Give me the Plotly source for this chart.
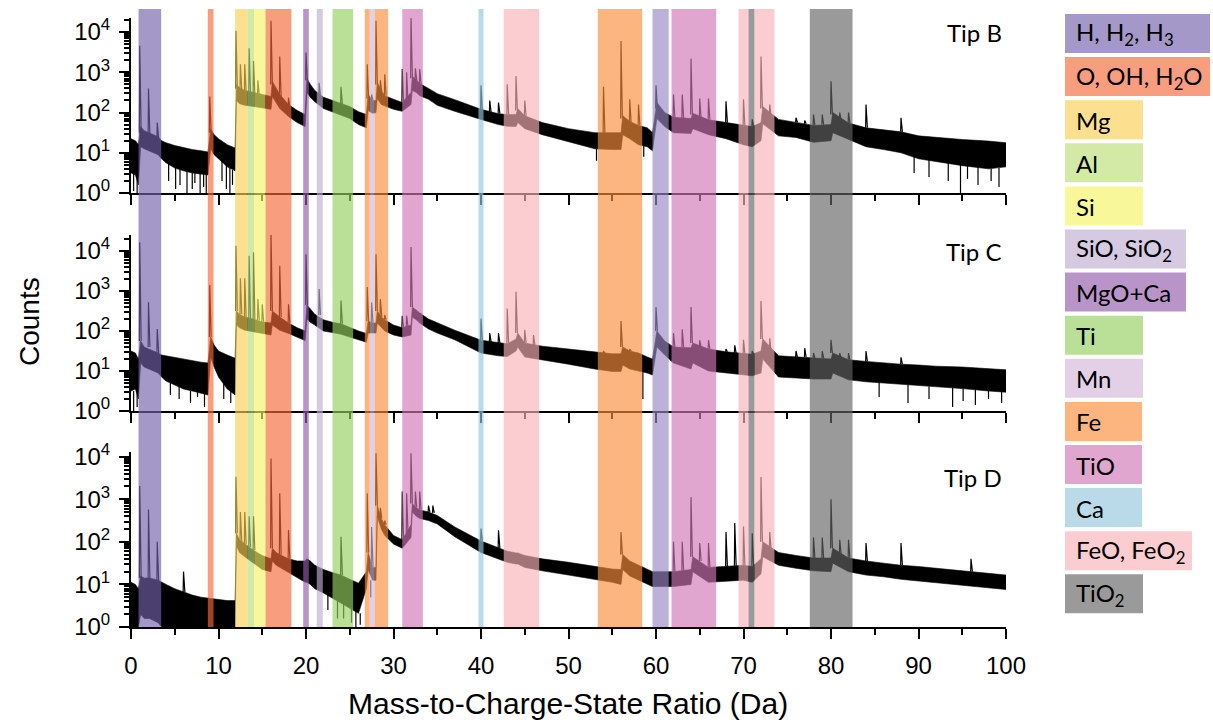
import numpy as np
import plotly.graph_objects as go
from plotly.subplots import make_subplots

# ---------------- data (log10 of counts) ----------------
env_x = [0, 0.5, 0.85, 1.1, 1.5, 2.1, 3.1, 3.5, 4, 5,
         6, 7, 8, 8.8, 9.1, 9.5, 10, 11, 11.9, 12.05,
         12.4, 13, 14, 15, 16.0, 16.15, 16.6, 17, 18, 19,
         19.9, 20.1, 20.5, 21, 22, 23, 24, 25, 26, 26.9,
         27.1, 27.6, 28.0, 28.15, 28.6, 29, 30, 31, 32.0, 32.15,
         32.6, 33, 34, 35, 37, 40, 42, 43, 44.0, 44.2,
         45, 47, 50, 53, 55, 56.0, 56.2, 57, 58, 59,
         59.6, 60.1, 61, 62, 64.0, 64.2, 66, 68, 70, 71,
         72.0, 72.2, 74, 76, 78, 80.0, 80.2, 82, 84, 86,
         88, 90, 92, 95, 98, 100]

tipB_hi = [1.35, 1.3, 1.2, 1.65, 1.55, 1.5, 1.4, 1.3, 1.25, 1.18,
           1.13, 1.08, 1.05, 1.02, 1.6, 1.45, 1.35, 1.2, 1.12, 2.7,
           2.62, 2.55, 2.5, 2.45, 2.4, 2.78, 2.6, 2.45, 2.2, 2.05,
           1.95, 2.85, 2.7, 2.55, 2.38, 2.3, 2.22, 2.15, 2.02, 1.95,
           2.45, 2.3, 2.3, 2.75, 2.55, 2.42, 2.33, 2.25, 2.5, 2.9,
           2.82, 2.72, 2.6, 2.47, 2.32, 2.08, 1.97, 1.95, 1.95, 2.1,
           1.92, 1.75, 1.6, 1.5, 1.5, 1.5, 1.92, 1.78, 1.68, 1.62,
           1.5, 2.25, 2.0, 1.88, 1.85, 1.98, 1.82, 1.75, 1.68, 1.65,
           1.75, 2.15, 1.83, 1.76, 1.68, 1.7, 2.0, 1.74, 1.62, 1.57,
           1.52, 1.42, 1.38, 1.33, 1.29, 1.25]
tipB_lo = [0.5, 0.45, 0.2, 1.15, 1.1, 1.05, 0.95, 0.85, 0.75, 0.62,
           0.55, 0.5, 0.48, 0.45, 1.1, 0.95, 0.85, 0.65, 0.55, 2.3,
           2.22, 2.18, 2.15, 2.12, 2.08, 2.4, 2.25, 2.1, 1.9, 1.75,
           1.65, 2.5, 2.38, 2.27, 2.1, 2.02, 1.93, 1.85, 1.7, 1.62,
           2.05, 1.98, 2.0, 2.35, 2.2, 2.16, 2.08, 2.03, 2.2, 2.55,
           2.5, 2.42, 2.33, 2.18, 2.03, 1.83, 1.7, 1.66, 1.65, 1.75,
           1.6, 1.45, 1.28, 1.1, 1.08, 1.08, 1.45, 1.35, 1.2, 1.15,
           1.05, 1.85, 1.65, 1.5, 1.48, 1.6, 1.45, 1.35, 1.2, 1.15,
           1.3, 1.72, 1.42, 1.38, 1.26, 1.3, 1.5, 1.34, 1.15, 1.08,
           1.0, 0.85, 0.78, 0.68, 0.6, 0.65]

tipC_hi = [1.5, 1.45, 1.3, 1.75, 1.6, 1.55, 1.45, 1.4, 1.38, 1.33,
           1.3, 1.26, 1.22, 1.2, 1.85, 1.65, 1.5, 1.4, 1.32, 2.5,
           2.42, 2.35, 2.3, 2.23, 2.2, 2.5, 2.42, 2.35, 2.2, 2.08,
           2.0, 2.65, 2.55, 2.42, 2.28, 2.22, 2.18, 2.08, 2.0, 1.94,
           2.25, 2.2, 2.2, 2.5, 2.35, 2.28, 2.15, 2.08, 2.15, 2.6,
           2.52, 2.45, 2.3, 2.2, 2.02, 1.77, 1.7, 1.68, 1.8, 1.95,
           1.7, 1.62, 1.55, 1.47, 1.43, 1.43, 1.6, 1.5, 1.45, 1.35,
           1.3, 2.0, 1.75, 1.6, 1.58, 1.7, 1.55, 1.48, 1.43, 1.42,
           1.5, 1.8, 1.38, 1.35, 1.33, 1.3, 1.45, 1.28, 1.24, 1.2,
           1.17, 1.15, 1.12, 1.1, 1.06, 1.03]
tipC_lo = [0.5, 0.55, 0.3, 1.2, 1.1, 1.05, 0.95, 0.85, 0.75, 0.65,
           0.55, 0.5, 0.45, 0.4, 1.35, 1.1, 0.85, 0.55, 0.4, 2.15,
           2.08, 2.02, 1.98, 1.94, 1.9, 2.15, 2.08, 2.02, 1.94, 1.84,
           1.76, 2.3, 2.22, 2.15, 2.0, 1.96, 1.92, 1.85, 1.78, 1.72,
           1.95, 1.95, 1.95, 2.2, 2.1, 2.0, 1.9, 1.85, 1.9, 2.35,
           2.28, 2.2, 2.05, 1.95, 1.78, 1.45, 1.38, 1.36, 1.5, 1.6,
           1.35, 1.28, 1.17, 1.05, 0.99, 0.99, 1.15, 1.05, 1.0, 0.95,
           0.9, 1.6, 1.4, 1.2, 1.05, 1.2, 1.0, 0.95, 0.9, 0.88,
           0.95, 1.3, 0.85, 0.83, 0.8, 0.8, 0.95, 0.78, 0.73, 0.7,
           0.67, 0.64, 0.6, 0.56, 0.5, 0.47]

tipD_hi = [1.05, 1.0, 0.9, 1.2, 1.15, 1.15, 1.1, 1.05, 1.0, 0.9,
           0.82, 0.75, 0.7, 0.68, 0.66, 0.65, 0.64, 0.62, 0.62, 2.2,
           2.05, 1.95, 1.8, 1.68, 1.6, 1.85, 1.75, 1.7, 1.6, 1.55,
           1.55, 1.6, 1.55, 1.45, 1.35, 1.28, 1.22, 1.12, 1.03, 1.3,
           1.75, 1.4, 1.4, 2.85, 2.55, 2.4, 2.15, 2.05, 2.4, 2.9,
           2.8, 2.75, 2.7, 2.62, 2.35, 2.02, 1.85, 1.78, 1.74, 1.74,
           1.68, 1.6, 1.52, 1.42, 1.36, 1.35, 1.7, 1.55, 1.45, 1.35,
           1.3, 1.3, 1.3, 1.3, 1.35, 1.65, 1.4, 1.42, 1.45, 1.42,
           1.6, 2.0, 1.75, 1.68, 1.62, 1.62, 1.85, 1.62, 1.55, 1.5,
           1.45, 1.42, 1.38, 1.32, 1.27, 1.22]
tipD_lo = [0, 0, 0, 0.3, 0.2, 0.2, 0.1, 0, 0, 0,
           0, 0, 0, 0, 0, 0, 0, 0, 0, 1.9,
           1.75, 1.65, 1.5, 1.35, 1.3, 1.55, 1.45, 1.4, 1.28, 1.15,
           1.05, 1.05, 1.0, 0.9, 0.8, 0.68, 0.56, 0.45, 0.32, 0.9,
           1.35, 1.1, 1.1, 2.6, 2.3, 2.15, 1.95, 1.85, 2.1, 2.7,
           2.6, 2.55, 2.5, 2.42, 2.12, 1.75, 1.6, 1.52, 1.48, 1.48,
           1.4, 1.32, 1.22, 1.12, 1.05, 1.0, 1.35, 1.2, 1.1, 1.0,
           0.95, 0.95, 0.95, 0.95, 1.0, 1.3, 1.05, 1.08, 1.1, 1.05,
           1.25, 1.65, 1.45, 1.38, 1.32, 1.3, 1.5, 1.3, 1.22, 1.18,
           1.12, 1.08, 1.04, 0.98, 0.92, 0.88]

pkB_x = [1, 2, 3, 9, 12, 12.5, 13, 13.5, 14, 14.5, 16, 17, 18, 20, 21.5, 24,
         27, 27.5, 28, 28.5, 29, 31, 31.5, 32, 32.5, 33, 40, 41, 42, 43, 44, 45,
         54, 56, 57, 58, 60, 62, 63, 64, 65, 66, 68, 70, 71, 72, 73,
         76, 77, 78, 79, 80, 81, 82, 84, 88]
pkB_top = [3.66, 2.6, 1.75, 2.4, 4.03, 3.2, 3.2, 3.6, 3.28, 2.8, 4.28, 3.39, 2.37, 3.49, 2.74, 2.64,
           3.2, 2.45, 4.28, 2.8, 2.95, 3.08, 3.0, 4.37, 3.1, 3.08, 2.68, 2.3, 2.25, 2.7, 2.91, 2.3,
           2.64, 3.78, 2.33, 2.2, 2.68, 2.45, 2.45, 3.34, 2.35, 2.35, 2.28, 2.33, 1.83, 3.39, 2.2,
           1.87, 1.8, 1.95, 1.95, 2.78, 2.0, 2.0, 2.2, 1.87]
pkB_base = [1.5, 1.45, 1.35, 1.5, 2.6, 2.55, 2.5, 2.48, 2.45, 2.42, 2.7, 2.4, 2.15, 2.8, 2.4, 2.2,
            2.35, 2.3, 2.7, 2.5, 2.42, 2.22, 2.25, 2.85, 2.8, 2.7, 2.05, 2.0, 1.97, 1.95, 2.05, 1.9,
            1.5, 1.85, 1.75, 1.68, 2.1, 1.88, 1.86, 1.95, 1.84, 1.82, 1.75, 1.68, 1.65, 2.1, 1.9,
            1.76, 1.72, 1.68, 1.7, 1.95, 1.8, 1.74, 1.62, 1.52]

pkC_x = [1, 2, 3, 9, 12, 12.5, 13, 13.5, 14, 14.5, 15, 16, 17, 18, 20, 21.5, 24,
         27, 27.5, 28, 28.5, 29, 31, 31.5, 32, 32.5, 33, 40, 41, 42, 43, 44, 45, 46,
         54, 56, 57, 60, 62, 63, 64, 65, 66, 68, 69, 70, 71, 72, 73,
         76, 77, 78, 79, 80, 81, 82, 84, 88]
pkC_top = [4.22, 2.72, 2.05, 3.15, 4.13, 3.32, 3.32, 3.88, 3.97, 2.8, 2.67, 4.43, 3.63, 2.67, 3.92, 3.05, 2.76,
           3.1, 2.72, 3.92, 2.8, 2.4, 2.38, 2.38, 4.1, 2.5, 2.4, 2.31, 1.95, 1.95, 2.56, 2.98, 2.03, 1.9,
           1.5, 2.25, 1.55, 2.6, 1.95, 2.04, 2.6, 1.77, 1.77, 1.55, 1.64, 1.78, 1.5, 2.75, 1.82,
           1.5, 1.57, 1.45, 1.5, 1.78, 1.45, 1.45, 1.5, 1.34]
pkC_base = [1.75, 1.6, 1.45, 1.85, 2.5, 2.42, 2.35, 2.32, 2.3, 2.27, 2.23, 2.5, 2.35, 2.2, 2.65, 2.4, 2.18,
            2.25, 2.2, 2.5, 2.35, 2.28, 2.08, 2.1, 2.6, 2.52, 2.45, 1.77, 1.72, 1.7, 1.68, 1.95, 1.7, 1.65,
            1.45, 1.6, 1.5, 2.0, 1.6, 1.6, 1.7, 1.6, 1.55, 1.48, 1.45, 1.43, 1.42, 1.8, 1.45,
            1.35, 1.34, 1.33, 1.32, 1.45, 1.3, 1.28, 1.24, 1.17]

pkD_x = [1, 2, 3, 6, 12, 12.5, 13, 13.5, 14, 16, 17, 18, 24,
         27, 27.5, 28, 28.5, 29, 31, 31.5, 32, 32.5, 33, 34, 34.5, 40, 42, 56,
         62, 63, 64, 65, 66, 68, 69, 70, 71, 72, 73, 78, 79, 80, 81, 82, 84, 88, 96]
pkD_top = [3.31, 2.76, 2.0, 1.3, 3.53, 2.7, 2.7, 2.6, 2.6, 3.96, 3.14, 2.28, 2.12,
           3.14, 2.35, 4.08, 2.8, 2.5, 3.18, 3.14, 4.08, 3.18, 3.18, 2.85, 2.85, 2.31, 2.27, 2.23,
           2.0, 2.0, 3.05, 1.97, 1.97, 2.23, 2.44, 2.36, 2.2, 3.52, 2.23, 2.1, 2.1, 3.0, 2.05, 2.05, 1.97, 1.97, 1.6]
pkD_base = [1.15, 1.12, 1.08, 0.82, 2.2, 2.0, 1.95, 1.88, 1.8, 1.85, 1.7, 1.6, 1.22,
            1.75, 1.4, 2.85, 2.55, 2.4, 2.05, 2.2, 2.9, 2.8, 2.75, 2.7, 2.68, 2.02, 1.85, 1.7,
            1.3, 1.32, 1.65, 1.55, 1.4, 1.42, 1.44, 1.45, 1.42, 2.0, 1.8, 1.62, 1.62, 1.85, 1.7, 1.62, 1.55, 1.45, 1.3]

# downward noise excursions (x, from, to) in log10 counts
dipB_x = [0.3, 0.7, 4.3, 5.1, 5.6, 6.4, 7.0, 7.3, 7.9, 8.3, 8.6, 10.4, 10.9, 11.3, 11.6,
          53.2, 58.6, 89.5, 91.2, 93.4, 94.8, 95.6, 96.8, 98.3, 99.2]
dipB_from = [0.5, 0.45, 0.75, 0.62, 0.6, 0.55, 0.5, 0.5, 0.48, 0.47, 0.46, 0.8, 0.7, 0.62, 0.57,
             1.1, 1.2, 0.9, 0.82, 0.75, 0.7, 0.68, 0.65, 0.6, 0.62]
dipB_to = [0.05, 0.0, 0.3, 0.1, 0.2, 0.0, 0.1, 0.25, 0.0, 0.15, 0.0, 0.3, 0.1, 0.0, 0.2,
           0.8, 0.9, 0.5, 0.4, 0.3, 0.0, 0.35, 0.2, 0.3, 0.15]

dipC_x = [0.3, 0.7, 4.5, 5.5, 6.8, 7.6, 8.4, 10.6, 11.4, 58.5, 85.5, 88.8, 91.2, 93.9, 95.1, 96.5, 98.0, 99.5]
dipC_from = [0.5, 0.5, 0.75, 0.62, 0.5, 0.47, 0.43, 0.7, 0.5, 0.97, 0.72, 0.67, 0.62, 0.58, 0.56, 0.54, 0.5, 0.48]
dipC_to = [0.0, 0.1, 0.4, 0.3, 0.2, 0.35, 0.1, 0.3, 0.2, 0.3, 0.35, 0.2, 0.3, 0.1, 0.25, 0.15, 0.3, 0.2]

dipD_x = [22.5, 23.6, 24.3, 25.2, 25.7, 26.2, 27.4]
dipD_from = [0.8, 0.65, 0.56, 0.45, 0.4, 0.32, 1.1]
dipD_to = [0.4, 0.2, 0.2, 0.1, 0.0, 0.05, 0.7]

tip_names = ["Tip B", "Tip C", "Tip D"]

# mass ranges (Da) and their species key
band_start = [0.86, 8.78, 11.9, 13.35, 14.08, 15.37, 19.68, 21.23, 23.03, 26.72, 27.29, 27.86,
              31.0, 39.71, 42.6, 53.35, 59.6, 61.77, 69.43, 70.57, 71.26, 77.58]
band_end = [3.45, 9.43, 13.35, 14.08, 15.37, 18.33, 20.32, 21.92, 25.39, 27.29, 27.86, 29.39,
            33.35, 40.29, 46.65, 58.42, 61.45, 66.88, 70.57, 71.26, 73.54, 82.46]
band_key = ["H", "O", "Mg", "Al", "Si", "O", "MgO", "SiO", "Ti", "Fe", "Mn", "Fe",
            "TiO", "Ca", "FeO", "Fe", "SiO2", "TiO", "FeO", "TiO2", "FeO", "TiO2"]

legend_keys = ["H", "O", "Mg", "Al", "Si", "SiO", "MgO", "Ti", "Mn", "Fe", "TiO", "Ca", "FeO", "TiO2"]
legend_labels = ["H, H<sub>2</sub>, H<sub>3</sub>", "O, OH, H<sub>2</sub>O", "Mg", "Al", "Si",
                 "SiO, SiO<sub>2</sub>", "MgO+Ca", "Ti", "Mn", "Fe", "TiO", "Ca",
                 "FeO, FeO<sub>2</sub>", "TiO<sub>2</sub>"]

# ---------------- styling ----------------
palette = {
    "H": (164, 152, 200), "O": (249, 157, 127), "Mg": (253, 224, 143), "Al": (211, 234, 166),
    "Si": (248, 248, 154), "SiO": (214, 202, 227), "MgO": (185, 148, 200), "Ti": (185, 224, 150),
    "Mn": (227, 208, 231), "Fe": (252, 181, 127), "TiO": (224, 166, 207), "Ca": (186, 218, 234),
    "FeO": (251, 204, 208), "TiO2": (154, 154, 154), "SiO2": (188, 177, 214),
}
legend_right_px = [1210, 1210, 1143, 1143, 1143, 1186, 1186, 1143, 1143, 1142, 1142, 1142, 1192, 1143]
BAND_ALPHA = 0.65

W, H = 1213, 724
L, R, T, B = 131, 207, 18, 97
PW, PH = W - L - R, H - T - B


def pxx(p):
    return (p - L) / PW


def pxy(p):
    return (H - B - p) / PH


panel_px = [(18, 193), (235, 411), (452, 627)]
y_top = [4.35, 4.4, 4.11]
tip_label_y = [33, 252, 477]

fig = make_subplots(rows=3, cols=1)

series = [(tipB_lo, tipB_hi, pkB_x, pkB_top, pkB_base, dipB_x, dipB_from, dipB_to),
          (tipC_lo, tipC_hi, pkC_x, pkC_top, pkC_base, dipC_x, dipC_from, dipC_to),
          (tipD_lo, tipD_hi, pkD_x, pkD_top, pkD_base, dipD_x, dipD_from, dipD_to)]

for i, (lo, hi, px, ptop, pbase, dx, dfrom, dto) in enumerate(series):
    assert len(lo) == len(env_x) and len(hi) == len(env_x)
    assert len(px) == len(ptop) == len(pbase)
    assert len(dx) == len(dfrom) == len(dto)
    row = i + 1
    fig.add_trace(go.Scatter(x=env_x, y=[10 ** v for v in lo], mode="lines",
                             line=dict(color="black", width=0.6), showlegend=False,
                             hoverinfo="skip"), row=row, col=1)
    fig.add_trace(go.Scatter(x=env_x, y=[10 ** v for v in hi], mode="lines",
                             line=dict(color="black", width=0.6), fill="tonexty",
                             fillcolor="black", showlegend=False, hoverinfo="skip"),
                  row=row, col=1)
    sx, sy = [], []
    for xv, tv, bv in zip(px, ptop, pbase):
        sx += [xv - 0.04, xv, xv + 0.16, None]
        sy += [10 ** bv, 10 ** tv, 10 ** bv, None]
    for xv, fv, tv in zip(dx, dfrom, dto):
        sx += [xv, xv, None]
        sy += [10 ** fv, 10 ** tv, None]
    fig.add_trace(go.Scatter(x=sx, y=sy, mode="lines", line=dict(color="black", width=1.2),
                             showlegend=False, hoverinfo="skip"), row=row, col=1)

axis_font = dict(family="Liberation Sans, Arial", size=24, color="black")
minor_vals = [k * 10 ** e for e in range(0, 5) for k in range(2, 10)]

for i in range(3):
    top_px, bot_px = panel_px[i]
    sfx = "" if i == 0 else str(i + 1)
    fig.layout["yaxis" + sfx].update(
        domain=[pxy(bot_px), pxy(top_px)], type="log", range=[0, y_top[i]],
        tickmode="array", tickvals=[1, 10, 100, 1000, 10000],
        ticktext=["10<sup>%d</sup>" % k for k in range(5)],
        ticks="outside", ticklen=10, tickwidth=2, tickcolor="black",
        minor=dict(tickmode="array", tickvals=minor_vals, ticks="outside", ticklen=5,
                   tickwidth=1.5, tickcolor="black", showgrid=False),
        showline=True, linewidth=2, linecolor="black", showgrid=False, zeroline=False,
        tickfont=axis_font, ticklabelstandoff=4,
    )
    fig.layout["xaxis" + sfx].update(
        domain=[0, 1], range=[0, 100], tickmode="linear", tick0=0, dtick=10,
        ticks="outside", ticklen=10, tickwidth=2, tickcolor="black",
        minor=dict(dtick=5, ticks="outside", ticklen=6, tickwidth=1.5, tickcolor="black",
                   showgrid=False),
        showline=True, linewidth=2, linecolor="black", showgrid=False, zeroline=False,
        showticklabels=(i == 2), tickfont=axis_font, ticklabelstandoff=6,
    )
    fig.add_annotation(x=pxx(1004), y=pxy(tip_label_y[i]), xref="paper", yref="paper",
                       text=tip_names[i], showarrow=False, xanchor="right", yanchor="middle",
                       font=dict(family="Lato", size=24, color="black"))


def band_fill(rgb):
    c = [max(0, min(255, round((v - 255 * (1 - BAND_ALPHA)) / BAND_ALPHA))) for v in rgb]
    return "rgb(%d,%d,%d)" % tuple(c)


for s, e, k in zip(band_start, band_end, band_key):
    fig.add_shape(type="rect", xref="x", yref="paper", x0=s, x1=e, y0=0, y1=pxy(9),
                  fillcolor=band_fill(palette[k]), opacity=BAND_ALPHA, line_width=0,
                  layer="above")

# legend boxes
for j, (k, lab) in enumerate(zip(legend_keys, legend_labels)):
    top = 14 + 43.1 * j
    fig.add_shape(type="rect", xref="paper", yref="paper", x0=pxx(1065),
                  x1=pxx(legend_right_px[j]), y0=pxy(top + 39), y1=pxy(top),
                  fillcolor="rgb(%d,%d,%d)" % palette[k], line_width=0, layer="above")
    fig.add_annotation(x=pxx(1074), y=pxy(top + 20), xref="paper", yref="paper", text=lab,
                       showarrow=False, xanchor="left", yanchor="middle",
                       font=dict(family="Lato", size=24, color="black"))

fig.add_annotation(x=pxx(30), y=pxy(322), xref="paper", yref="paper", text="Counts",
                   textangle=-90, showarrow=False, xanchor="center", yanchor="middle",
                   font=dict(family="Liberation Sans, Arial", size=28, color="black"))
fig.add_annotation(x=pxx(568), y=pxy(703), xref="paper", yref="paper",
                   text="Mass-to-Charge-State Ratio (Da)", showarrow=False,
                   xanchor="center", yanchor="middle",
                   font=dict(family="Liberation Sans, Arial", size=30, color="black"))

fig.update_layout(width=W, height=H, margin=dict(l=L, r=R, t=T, b=B, autoexpand=False),
                  paper_bgcolor="white", plot_bgcolor="white", showlegend=False)

fig.write_html("out.html")
